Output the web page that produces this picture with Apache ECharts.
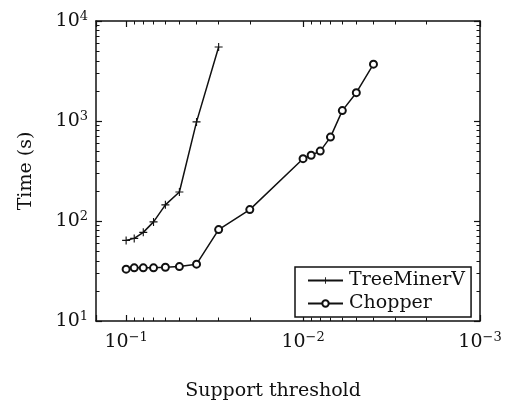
<!DOCTYPE html>
<html>
<head>
<meta charset="utf-8">
<script src="https://cdn.jsdelivr.net/npm/echarts@6/dist/echarts.min.js"></script>
<style>
  html, body { margin: 0; padding: 0; background: #fff; }
  #chart { width: 514px; height: 402px; }
</style>
</head>
<body>
<div id="chart"></div>
<script>
// values
const supportTree = [0.1, 0.09, 0.08, 0.07, 0.06, 0.05, 0.04, 0.03];
const timeTree = [64, 67, 77, 98, 145, 195, 980, 5500];

const supportChopper = [0.1, 0.09, 0.08, 0.07, 0.06, 0.05, 0.04, 0.03, 0.02,
  0.01, 0.009, 0.008, 0.007, 0.006, 0.005, 0.004];
const timeChopper = [33, 34, 34, 34, 34.5, 35, 37, 82, 130,
  420, 455, 500, 690, 1270, 1920, 3700];

const seriesNames = ['TreeMinerV', 'Chopper'];

// minor tick positions (2..9 of each decade)
const xMinorTicks = [0.002, 0.003, 0.004, 0.005, 0.006, 0.007, 0.008, 0.009,
  0.02, 0.03, 0.04, 0.05, 0.06, 0.07, 0.08, 0.09];
const yMinorTicks = [20, 30, 40, 50, 60, 70, 80, 90,
  200, 300, 400, 500, 600, 700, 800, 900,
  2000, 3000, 4000, 5000, 6000, 7000, 8000, 9000];

const X_MIN = 0.001, X_MAX = 0.148;
const Y_MIN = 10, Y_MAX = 10000;

const FONT = 'DejaVu Serif';
const INK = '#111';

function powLabel(v) {
  const e = Math.log10(v);
  const n = Math.round(e);
  if (Math.abs(e - n) > 1e-6) return '';
  const exp = n < 0 ? '\u2212' + (-n) : String(n);
  return '{b|10}{s|' + exp + '}';
}

const labelRich = {
  b: { fontFamily: FONT, fontSize: 19, color: INK },
  s: { fontFamily: FONT, fontSize: 13, color: INK, padding: [0, 0, 9, 0] }
};

const lineStyleAxis = { color: INK, width: 1.5 };

function xAxisCfg(pos, main) {
  return {
    type: 'log',
    position: pos,
    inverse: true,
    min: X_MIN,
    max: X_MAX,
    interval: 1,
    name: main ? 'Support threshold' : '',
    nameLocation: 'middle',
    nameGap: 61,
    nameTextStyle: { fontFamily: FONT, fontSize: 19, color: INK, padding: [0, 30, 0, 0] },
    axisLine: { show: true, onZero: false, lineStyle: lineStyleAxis },
    axisTick: { show: true, inside: true, length: 6, lineStyle: { color: INK, width: 1.2 } },
    minorTick: { show: false },
    splitLine: { show: false },
    axisLabel: { show: main, margin: 10, formatter: powLabel, rich: labelRich }
  };
}

function yAxisCfg(pos, main) {
  return {
    type: 'log',
    position: pos,
    min: Y_MIN,
    max: Y_MAX,
    interval: 1,
    name: main ? 'Time (s)' : '',
    nameLocation: 'middle',
    nameGap: 60,
    nameRotate: 90,
    nameTextStyle: { fontFamily: FONT, fontSize: 19, color: INK },
    axisLine: { show: true, onZero: false, lineStyle: lineStyleAxis },
    axisTick: { show: true, inside: true, length: 6, lineStyle: { color: INK, width: 1.2 } },
    minorTick: { show: false },
    splitLine: { show: false },
    axisLabel: { show: main, margin: 8, formatter: powLabel, rich: labelRich }
  };
}

// minor ticks: plain value axes laid over the same grid in log10 units
function minorX(pos) {
  return {
    type: 'value', position: pos, inverse: true,
    min: Math.log10(X_MIN), max: Math.log10(X_MAX),
    axisLine: { show: false },
    axisTick: { show: true, inside: true, length: 3.5,
      customValues: xMinorTicks.map(Math.log10),
      lineStyle: { color: INK, width: 1 } },
    axisLabel: { show: false },
    splitLine: { show: false }
  };
}

function minorY(pos) {
  return {
    type: 'value', position: pos,
    min: Math.log10(Y_MIN), max: Math.log10(Y_MAX),
    axisLine: { show: false },
    axisTick: { show: true, inside: true, length: 3.5,
      customValues: yMinorTicks.map(Math.log10),
      lineStyle: { color: INK, width: 1 } },
    axisLabel: { show: false },
    splitLine: { show: false }
  };
}

const plusSymbol = 'path://M4.3,0H5.7V4.3H10V5.7H5.7V10H4.3V5.7H0V4.3H4.3Z';

const chart = echarts.init(document.getElementById('chart'), null, { renderer: 'canvas' });

chart.setOption({
  backgroundColor: '#fff',
  animation: false,
  grid: { left: 96, right: 34, top: 21, bottom: 81, containLabel: false, outerBoundsMode: 'none' },
  xAxis: [xAxisCfg('bottom', true), xAxisCfg('top', false), minorX('bottom'), minorX('top')],
  yAxis: [yAxisCfg('left', true), yAxisCfg('right', false), minorY('left'), minorY('right')],
  legend: {
    orient: 'vertical',
    left: 295,
    top: 267,
    padding: [4, 6, 4, 12],
    itemGap: 4,
    itemWidth: 35,
    itemHeight: 8,
    backgroundColor: '#fff',
    borderColor: INK,
    borderWidth: 1.5,
    borderRadius: 0,
    textStyle: { fontFamily: FONT, fontSize: 19, color: INK, padding: [0, 0, 0, 1] },
    data: seriesNames
  },
  series: [
    {
      name: seriesNames[0],
      type: 'line',
      data: supportTree.map((s, i) => [s, timeTree[i]]),
      symbol: plusSymbol,
      symbolSize: 8,
      showAllSymbol: true,
      lineStyle: { color: INK, width: 1.5 },
      itemStyle: { color: INK, borderWidth: 0 },
      z: 3
    },
    {
      name: seriesNames[1],
      type: 'line',
      data: supportChopper.map((s, i) => [s, timeChopper[i]]),
      symbol: 'emptyCircle',
      symbolSize: 7,
      showAllSymbol: true,
      lineStyle: { color: INK, width: 1.5 },
      itemStyle: { color: INK, borderColor: INK, borderWidth: 1.5 },
      z: 3
    }
  ]
});
</script>
</body>
</html>
